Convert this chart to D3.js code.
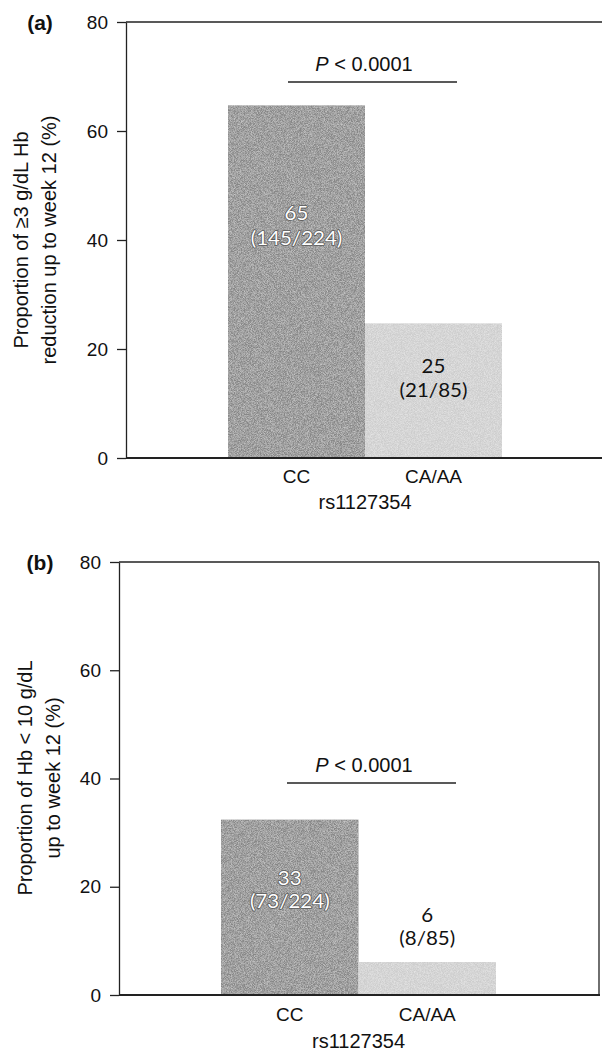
<!DOCTYPE html>
<html>
<head>
<meta charset="utf-8">
<script src="https://cdn.jsdelivr.net/npm/d3@7"></script>
<style>
  body { margin: 0; background: #fff; }
  svg { display: block; }
  text { font-family: "Liberation Sans", Arial, sans-serif; fill: #111; }
  .barlab { font-family: Lato, "Open Sans", sans-serif; font-size: 19px; }
</style>
</head>
<body>
<svg id="chart" width="602" height="1054"></svg>
<script>
// data
const genotypes = ['CC', 'CA/AA']
const reductionPct = [64.7, 24.7]          // (a) >=3 g/dL Hb reduction
const reductionLabel = ['65', '25']
const reductionFrac = ['(145/224)', '(21/85)']
const lowHbPct = [32.4, 6.1]               // (b) Hb < 10 g/dL
const lowHbLabel = ['33', '6']
const lowHbFrac = ['(73/224)', '(8/85)']
const yTicks = [0, 20, 40, 60, 80]
const pText = '< 0.0001'

const svg = d3.select('#chart')
const barColors = ['#878787', '#cdcdcd']

// fine grain on the bars, like the printed original
const defs = svg.append('defs')
const f = defs.append('filter').attr('id', 'grain').attr('x', 0).attr('y', 0).attr('width', 1).attr('height', 1)
f.append('feTurbulence').attr('type', 'fractalNoise').attr('baseFrequency', 1.3).attr('numOctaves', 1).attr('seed', 5).attr('result', 'noise')
f.append('feColorMatrix').attr('in', 'noise').attr('type', 'matrix')
  .attr('values', '0 0 0 0 1  0 0 0 0 1  0 0 0 0 1  0.9 0 0 0 -0.3').attr('result', 'speck')
f.append('feComposite').attr('in', 'speck').attr('in2', 'SourceGraphic').attr('operator', 'in').attr('result', 'sp2')
f.append('feMerge').call(m => {
  m.append('feMergeNode').attr('in', 'SourceGraphic')
  m.append('feMergeNode').attr('in', 'sp2')
})

const panels = [
  {
    tag: '(a)', vals: reductionPct, lab: reductionLabel, frac: reductionFrac,
    axisX: 126, top: 22, bottom: 458, right: 602, box: false,
    bars: [228, 502], labY: [[220, 245], [373, 397]], labCol: ['#fff', '#111'],
    pLine: [288, 457, 82], pX: 364, pY: 71,
    title: ['Proportion of \u22653 g/dL Hb', 'reduction up to week 12 (%)'], titleX: [28, 56], titleY: 240,
    xLabY: 483, xTitleY: 509
  },
  {
    tag: '(b)', vals: lowHbPct, lab: lowHbLabel, frac: lowHbFrac,
    axisX: 119, top: 562, bottom: 995, right: 599, box: true,
    bars: [221, 496], labY: [[885, 908], [922, 945]], labCol: ['#fff', '#111'],
    pLine: [287, 456, 783], pX: 364, pY: 772,
    title: ['Proportion of Hb < 10 g/dL', 'up to week 12 (%)'], titleX: [32, 60], titleY: 778,
    xLabY: 1021, xTitleY: 1048
  }
]

panels.forEach(p => {
  const g = svg.append('g')
  const y = d3.scaleLinear().domain([0, 80]).range([p.bottom, p.top])
  const x = d3.scaleBand().domain(genotypes).range(p.bars).padding(0)

  // bars
  g.selectAll('rect.bar')
    .data(p.vals)
    .enter()
    .append('rect')
    .attr('class', 'bar')
    .attr('x', (d, i) => x(genotypes[i]))
    .attr('width', x.bandwidth())
    .attr('y', d => y(d))
    .attr('height', d => y(0) - y(d))
    .attr('fill', (d, i) => barColors[i])
    .attr('filter', 'url(#grain)')

  // y axis
  const ax = g.append('g')
    .attr('transform', `translate(${p.axisX},0)`)
    .call(d3.axisLeft(y).tickValues(yTicks).tickSize(9).tickPadding(9).tickSizeOuter(0))
  ax.select('.domain').attr('stroke', '#222').attr('stroke-width', 1.3)
  ax.selectAll('.tick line').attr('stroke', '#222').attr('stroke-width', 1.3)
  ax.selectAll('.tick text').attr('font-size', 19).attr('font-family', '"Liberation Sans", Arial, sans-serif').attr('fill', '#111')

  // frame lines
  g.append('line').attr('x1', p.axisX).attr('x2', p.right).attr('y1', y(80)).attr('y2', y(80))
    .attr('stroke', '#222').attr('stroke-width', 1.3)
  g.append('line').attr('x1', p.axisX).attr('x2', p.box ? p.right + 1 : p.right).attr('y1', y(0)).attr('y2', y(0))
    .attr('stroke', '#222').attr('stroke-width', 1.8)
  if (p.box) {
    g.append('line').attr('x1', p.right).attr('x2', p.right).attr('y1', y(80)).attr('y2', y(0))
      .attr('stroke', '#222').attr('stroke-width', 1.3)
  }

  // value labels (white ones get a soft dark halo)
  p.vals.forEach((v, i) => {
    const cx = x(genotypes[i]) + x.bandwidth() / 2
    const col = p.labCol[i]
    ;[p.lab[i], p.frac[i]].forEach((t, k) => {
      const tx = g.append('text').attr('class', 'barlab')
        .attr('transform', `translate(${cx},${p.labY[i][k]}) scale(1.08,1)`)
        .attr('text-anchor', 'middle').style('fill', col)
        .text(t)
      if (i === 0) {
        tx.attr('stroke', '#5a5a5a').attr('stroke-width', 1.6)
          .attr('stroke-linejoin', 'round').style('paint-order', 'stroke')
      }
    })
  })

  // significance bar
  g.append('line').attr('x1', p.pLine[0]).attr('x2', p.pLine[1]).attr('y1', p.pLine[2]).attr('y2', p.pLine[2])
    .attr('stroke', '#222').attr('stroke-width', 1.5)
  const pt = g.append('text').attr('x', p.pX).attr('y', p.pY)
    .attr('text-anchor', 'middle').attr('font-size', 20)
  pt.append('tspan').attr('font-style', 'italic').text('P')
  pt.append('tspan').text(' ' + pText)

  // x labels
  genotypes.forEach(c => {
    g.append('text').attr('x', x(c) + x.bandwidth() / 2).attr('y', p.xLabY)
      .attr('text-anchor', 'middle').attr('font-size', 19).text(c)
  })
  g.append('text').attr('x', (p.bars[0] + p.bars[1]) / 2).attr('y', p.xTitleY)
    .attr('text-anchor', 'middle').attr('font-size', 20).text('rs1127354')

  // y title
  p.title.forEach((t, i) => {
    g.append('text')
      .attr('transform', `translate(${p.titleX[i]},${p.titleY}) rotate(-90)`)
      .attr('text-anchor', 'middle').attr('font-size', 20).text(t)
  })

  // panel tag
  g.append('text').attr('x', 40).attr('y', p.top + 8).attr('text-anchor', 'middle')
    .attr('font-size', 21).attr('font-weight', 'bold').text(p.tag)
})
</script>
</body>
</html>
